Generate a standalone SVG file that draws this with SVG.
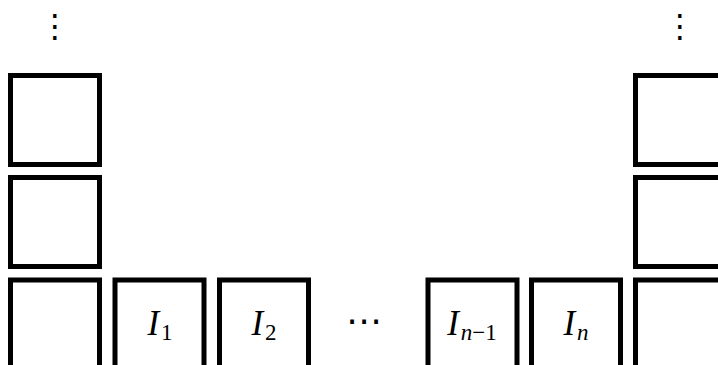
<svg xmlns="http://www.w3.org/2000/svg" width="718" height="365" viewBox="0 0 718 365">
<style>
.box{fill:none;stroke:#000;stroke-width:5;stroke-linejoin:miter}
.lbl{font-family:"Liberation Serif","DejaVu Serif",serif;font-style:italic;font-size:35px;fill:#000;text-anchor:middle}
.sub{font-size:23px}
.up{font-style:normal}
.dots{font-family:"DejaVu Sans",sans-serif;font-size:32px;fill:#000;text-anchor:middle}
.hd{font-size:36px}
</style>
<rect width="718" height="365" fill="#fff"/>
<g id="left-col">
  <g id="L1"><rect class="box" x="10.5" y="75.5" width="89" height="89"/></g>
  <g id="L2"><rect class="box" x="10.5" y="177.5" width="89" height="89"/></g>
  <g id="L3"><rect class="box" x="10.5" y="280" width="89" height="89"/></g>
  <g id="L-dots"><text class="dots" x="55" y="37">⋮</text></g>
</g>
<g id="right-col">
  <g id="R1"><rect class="box" x="635.5" y="75.5" width="89" height="89"/></g>
  <g id="R2"><rect class="box" x="635.5" y="177.5" width="89" height="89"/></g>
  <g id="R3"><rect class="box" x="635.5" y="280" width="89" height="89"/></g>
  <g id="R-dots"><text class="dots" x="680" y="37">⋮</text></g>
</g>
<g id="I1"><rect class="box" x="115" y="280" width="89" height="89"/><text class="lbl" x="160" y="335">I<tspan class="sub up" dx="2" dy="5">1</tspan></text></g>
<g id="I2"><rect class="box" x="219.5" y="280" width="89" height="89"/><text class="lbl" x="264" y="335">I<tspan class="sub up" dx="2" dy="5">2</tspan></text></g>
<g id="hdots"><text class="dots hd" x="364" y="333">⋯</text></g>
<g id="In1"><rect class="box" x="428" y="280" width="89" height="89"/><text class="lbl" x="472" y="335">I<tspan class="sub" dx="2" dy="5">n</tspan><tspan class="sub up">−1</tspan></text></g>
<g id="In"><rect class="box" x="531.5" y="280" width="89" height="89"/><text class="lbl" x="576" y="335">I<tspan class="sub" dx="2" dy="5">n</tspan></text></g>
<g id="connectors"/>
</svg>
